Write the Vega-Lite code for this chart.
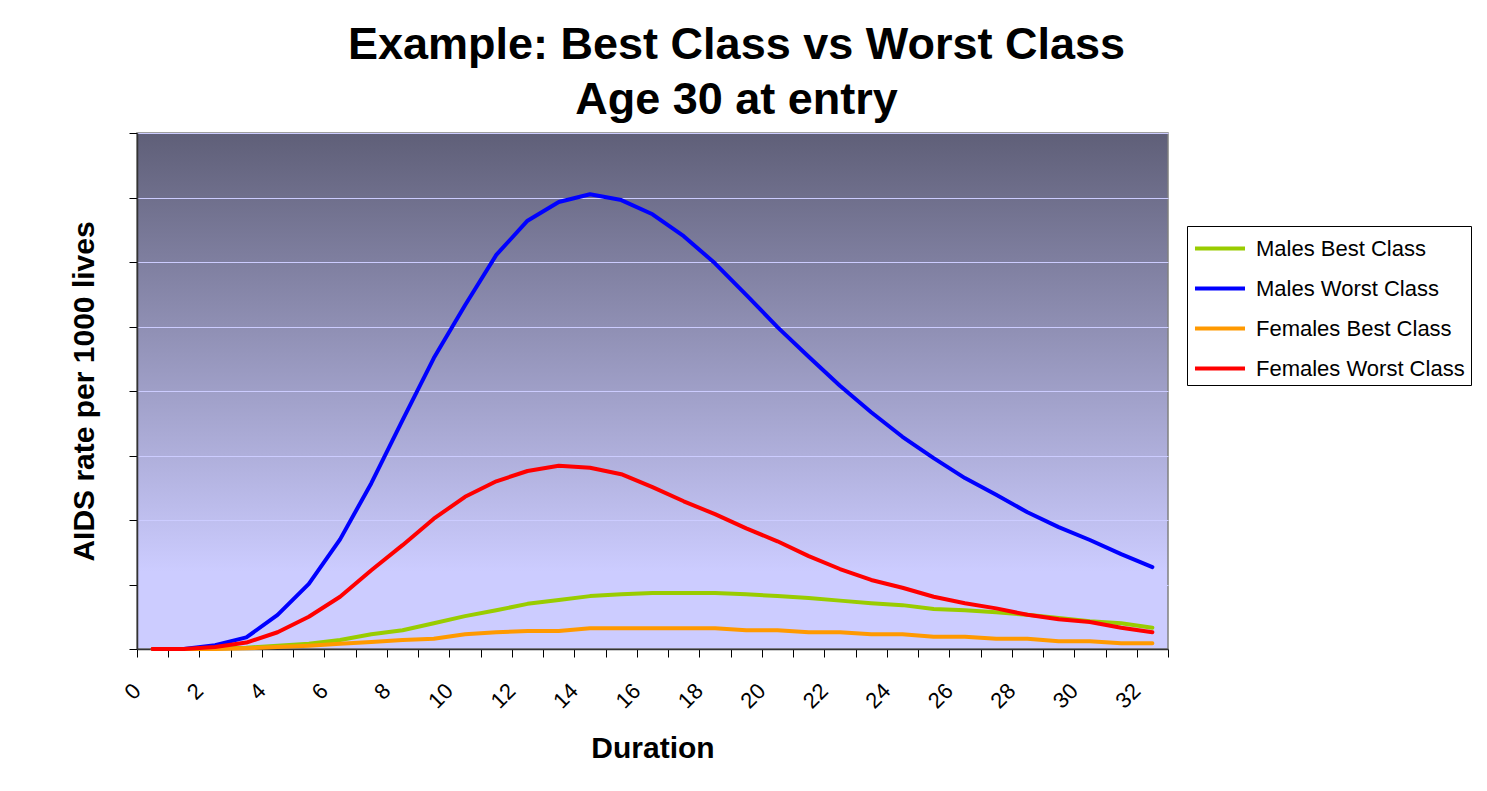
{
  "$schema": "https://vega.github.io/schema/vega-lite/v6.json",
  "width": 1031,
  "height": 516,
  "autosize": {"type": "none"},
  "padding": {"left": 137, "top": 133, "right": 319, "bottom": 142},
  "background": "white",
  "title": {
    "text": ["Example: Best Class vs Worst Class", "Age 30 at entry"],
    "font": "Liberation Sans",
    "fontSize": 45,
    "fontWeight": "bold",
    "color": "#000000",
    "lineHeight": 55,
    "anchor": "middle",
    "dx": 84,
    "offset": 10
  },
  "datasets": {
    "rates": [
      {"duration": 0, "series": "Males Best Class", "rate": 0},
      {"duration": 1, "series": "Males Best Class", "rate": 0},
      {"duration": 2, "series": "Males Best Class", "rate": 0.01},
      {"duration": 3, "series": "Males Best Class", "rate": 0.02},
      {"duration": 4, "series": "Males Best Class", "rate": 0.05},
      {"duration": 5, "series": "Males Best Class", "rate": 0.08},
      {"duration": 6, "series": "Males Best Class", "rate": 0.14},
      {"duration": 7, "series": "Males Best Class", "rate": 0.23},
      {"duration": 8, "series": "Males Best Class", "rate": 0.29},
      {"duration": 9, "series": "Males Best Class", "rate": 0.4},
      {"duration": 10, "series": "Males Best Class", "rate": 0.51},
      {"duration": 11, "series": "Males Best Class", "rate": 0.6},
      {"duration": 12, "series": "Males Best Class", "rate": 0.7},
      {"duration": 13, "series": "Males Best Class", "rate": 0.76},
      {"duration": 14, "series": "Males Best Class", "rate": 0.82},
      {"duration": 15, "series": "Males Best Class", "rate": 0.85},
      {"duration": 16, "series": "Males Best Class", "rate": 0.87},
      {"duration": 17, "series": "Males Best Class", "rate": 0.87},
      {"duration": 18, "series": "Males Best Class", "rate": 0.87},
      {"duration": 19, "series": "Males Best Class", "rate": 0.85},
      {"duration": 20, "series": "Males Best Class", "rate": 0.82},
      {"duration": 21, "series": "Males Best Class", "rate": 0.79},
      {"duration": 22, "series": "Males Best Class", "rate": 0.75},
      {"duration": 23, "series": "Males Best Class", "rate": 0.71},
      {"duration": 24, "series": "Males Best Class", "rate": 0.68},
      {"duration": 25, "series": "Males Best Class", "rate": 0.62},
      {"duration": 26, "series": "Males Best Class", "rate": 0.6},
      {"duration": 27, "series": "Males Best Class", "rate": 0.57},
      {"duration": 28, "series": "Males Best Class", "rate": 0.53},
      {"duration": 29, "series": "Males Best Class", "rate": 0.48},
      {"duration": 30, "series": "Males Best Class", "rate": 0.43},
      {"duration": 31, "series": "Males Best Class", "rate": 0.4},
      {"duration": 32, "series": "Males Best Class", "rate": 0.33},
      {"duration": 0, "series": "Males Worst Class", "rate": 0},
      {"duration": 1, "series": "Males Worst Class", "rate": 0},
      {"duration": 2, "series": "Males Worst Class", "rate": 0.06},
      {"duration": 3, "series": "Males Worst Class", "rate": 0.18},
      {"duration": 4, "series": "Males Worst Class", "rate": 0.53},
      {"duration": 5, "series": "Males Worst Class", "rate": 1.01},
      {"duration": 6, "series": "Males Worst Class", "rate": 1.7},
      {"duration": 7, "series": "Males Worst Class", "rate": 2.57},
      {"duration": 8, "series": "Males Worst Class", "rate": 3.55},
      {"duration": 9, "series": "Males Worst Class", "rate": 4.51},
      {"duration": 10, "series": "Males Worst Class", "rate": 5.33},
      {"duration": 11, "series": "Males Worst Class", "rate": 6.11},
      {"duration": 12, "series": "Males Worst Class", "rate": 6.64},
      {"duration": 13, "series": "Males Worst Class", "rate": 6.93},
      {"duration": 14, "series": "Males Worst Class", "rate": 7.05},
      {"duration": 15, "series": "Males Worst Class", "rate": 6.96},
      {"duration": 16, "series": "Males Worst Class", "rate": 6.74},
      {"duration": 17, "series": "Males Worst Class", "rate": 6.4},
      {"duration": 18, "series": "Males Worst Class", "rate": 5.98},
      {"duration": 19, "series": "Males Worst Class", "rate": 5.49},
      {"duration": 20, "series": "Males Worst Class", "rate": 4.99},
      {"duration": 21, "series": "Males Worst Class", "rate": 4.53},
      {"duration": 22, "series": "Males Worst Class", "rate": 4.08},
      {"duration": 23, "series": "Males Worst Class", "rate": 3.67},
      {"duration": 24, "series": "Males Worst Class", "rate": 3.29},
      {"duration": 25, "series": "Males Worst Class", "rate": 2.96},
      {"duration": 26, "series": "Males Worst Class", "rate": 2.65},
      {"duration": 27, "series": "Males Worst Class", "rate": 2.39},
      {"duration": 28, "series": "Males Worst Class", "rate": 2.12},
      {"duration": 29, "series": "Males Worst Class", "rate": 1.89},
      {"duration": 30, "series": "Males Worst Class", "rate": 1.69},
      {"duration": 31, "series": "Males Worst Class", "rate": 1.47},
      {"duration": 32, "series": "Males Worst Class", "rate": 1.27},
      {"duration": 0, "series": "Females Best Class", "rate": 0},
      {"duration": 1, "series": "Females Best Class", "rate": 0},
      {"duration": 2, "series": "Females Best Class", "rate": 0},
      {"duration": 3, "series": "Females Best Class", "rate": 0.01},
      {"duration": 4, "series": "Females Best Class", "rate": 0.03},
      {"duration": 5, "series": "Females Best Class", "rate": 0.05},
      {"duration": 6, "series": "Females Best Class", "rate": 0.08},
      {"duration": 7, "series": "Females Best Class", "rate": 0.11},
      {"duration": 8, "series": "Females Best Class", "rate": 0.14},
      {"duration": 9, "series": "Females Best Class", "rate": 0.16},
      {"duration": 10, "series": "Females Best Class", "rate": 0.23},
      {"duration": 11, "series": "Females Best Class", "rate": 0.26},
      {"duration": 12, "series": "Females Best Class", "rate": 0.28},
      {"duration": 13, "series": "Females Best Class", "rate": 0.28},
      {"duration": 14, "series": "Females Best Class", "rate": 0.32},
      {"duration": 15, "series": "Females Best Class", "rate": 0.32},
      {"duration": 16, "series": "Females Best Class", "rate": 0.32},
      {"duration": 17, "series": "Females Best Class", "rate": 0.32},
      {"duration": 18, "series": "Females Best Class", "rate": 0.32},
      {"duration": 19, "series": "Females Best Class", "rate": 0.29},
      {"duration": 20, "series": "Females Best Class", "rate": 0.29},
      {"duration": 21, "series": "Females Best Class", "rate": 0.26},
      {"duration": 22, "series": "Females Best Class", "rate": 0.26},
      {"duration": 23, "series": "Females Best Class", "rate": 0.23},
      {"duration": 24, "series": "Females Best Class", "rate": 0.23},
      {"duration": 25, "series": "Females Best Class", "rate": 0.19},
      {"duration": 26, "series": "Females Best Class", "rate": 0.19},
      {"duration": 27, "series": "Females Best Class", "rate": 0.16},
      {"duration": 28, "series": "Females Best Class", "rate": 0.16},
      {"duration": 29, "series": "Females Best Class", "rate": 0.12},
      {"duration": 30, "series": "Females Best Class", "rate": 0.12},
      {"duration": 31, "series": "Females Best Class", "rate": 0.09},
      {"duration": 32, "series": "Females Best Class", "rate": 0.09},
      {"duration": 0, "series": "Females Worst Class", "rate": 0},
      {"duration": 1, "series": "Females Worst Class", "rate": 0},
      {"duration": 2, "series": "Females Worst Class", "rate": 0.03},
      {"duration": 3, "series": "Females Worst Class", "rate": 0.1},
      {"duration": 4, "series": "Females Worst Class", "rate": 0.26},
      {"duration": 5, "series": "Females Worst Class", "rate": 0.5},
      {"duration": 6, "series": "Females Worst Class", "rate": 0.81},
      {"duration": 7, "series": "Females Worst Class", "rate": 1.22},
      {"duration": 8, "series": "Females Worst Class", "rate": 1.61},
      {"duration": 9, "series": "Females Worst Class", "rate": 2.02},
      {"duration": 10, "series": "Females Worst Class", "rate": 2.36},
      {"duration": 11, "series": "Females Worst Class", "rate": 2.6},
      {"duration": 12, "series": "Females Worst Class", "rate": 2.76},
      {"duration": 13, "series": "Females Worst Class", "rate": 2.84},
      {"duration": 14, "series": "Females Worst Class", "rate": 2.81},
      {"duration": 15, "series": "Females Worst Class", "rate": 2.71},
      {"duration": 16, "series": "Females Worst Class", "rate": 2.51},
      {"duration": 17, "series": "Females Worst Class", "rate": 2.29},
      {"duration": 18, "series": "Females Worst Class", "rate": 2.09},
      {"duration": 19, "series": "Females Worst Class", "rate": 1.87},
      {"duration": 20, "series": "Females Worst Class", "rate": 1.67},
      {"duration": 21, "series": "Females Worst Class", "rate": 1.44},
      {"duration": 22, "series": "Females Worst Class", "rate": 1.24},
      {"duration": 23, "series": "Females Worst Class", "rate": 1.07},
      {"duration": 24, "series": "Females Worst Class", "rate": 0.95},
      {"duration": 25, "series": "Females Worst Class", "rate": 0.81},
      {"duration": 26, "series": "Females Worst Class", "rate": 0.71},
      {"duration": 27, "series": "Females Worst Class", "rate": 0.63},
      {"duration": 28, "series": "Females Worst Class", "rate": 0.53},
      {"duration": 29, "series": "Females Worst Class", "rate": 0.46},
      {"duration": 30, "series": "Females Worst Class", "rate": 0.42},
      {"duration": 31, "series": "Females Worst Class", "rate": 0.33},
      {"duration": 32, "series": "Females Worst Class", "rate": 0.26}
    ]
  },
  "data": {"name": "rates"},
  "mark": {"type": "line", "strokeWidth": 4, "strokeJoin": "round", "strokeCap": "round"},
  "encoding": {
    "x": {
      "field": "duration",
      "type": "ordinal",
      "scale": {"paddingInner": 0, "paddingOuter": 0},
      "axis": {
        "title": "Duration",
        "titleFont": "Liberation Sans",
        "titleFontSize": 30,
        "titleFontWeight": "bold",
        "titleColor": "#000000",
        "titlePadding": 21,
        "labelFont": "Liberation Sans",
        "labelFontSize": 22,
        "labelColor": "#000000",
        "labelAngle": -45,
        "labelAlign": "right",
        "labelBaseline": "middle",
        "labelPadding": 30,
        "labelOffset": -16,
        "labelOverlap": false,
        "labelExpr": "datum.value % 2 == 0 ? datum.label : ''",
        "tickBand": "extent",
        "tickSize": 8,
        "tickColor": "#000000",
        "tickWidth": 1,
        "domainColor": "#333333",
        "domainWidth": 1.5,
        "grid": false
      }
    },
    "y": {
      "field": "rate",
      "type": "quantitative",
      "scale": {"domain": [0, 8], "nice": false},
      "axis": {
        "title": "AIDS rate per 1000 lives",
        "titleFont": "Liberation Sans",
        "titleFontSize": 30,
        "titleFontWeight": "bold",
        "titleColor": "#000000",
        "titlePadding": 29,
        "labels": false,
        "values": [0, 1, 2, 3, 4, 5, 6, 7, 8],
        "tickSize": 8,
        "tickColor": "#000000",
        "domainColor": "#333333",
        "domainWidth": 1.5,
        "grid": true,
        "gridColor": "#CCCCFF",
        "gridWidth": 1.2
      }
    },
    "color": {
      "field": "series",
      "type": "nominal",
      "sort": ["Males Best Class", "Males Worst Class", "Females Best Class", "Females Worst Class"],
      "scale": {
        "domain": ["Males Best Class", "Males Worst Class", "Females Best Class", "Females Worst Class"],
        "range": ["#99CC00", "#0000FF", "#FF9900", "#FF0000"]
      },
      "legend": {
        "orient": "none",
        "legendX": 1050,
        "legendY": 93,
        "title": null,
        "labelFont": "Liberation Sans",
        "labelFontSize": 22,
        "labelColor": "#000000",
        "labelLimit": 400,
        "symbolType": "M-1.667,0L1.667,0",
        "symbolSize": 900,
        "symbolStrokeWidth": 4,
        "symbolOffset": 10.5,
        "labelOffset": 19,
        "rowPadding": 12,
        "padding": 5.5,
        "strokeColor": "#000000",
        "fillColor": "#FFFFFF"
      }
    }
  },
  "config": {
    "font": "Liberation Sans",
    "view": {
      "fill": {
        "gradient": "linear",
        "x1": 0, "y1": 0, "x2": 0, "y2": 1,
        "stops": [
          {"offset": 0, "color": "#5F5F78"},
          {"offset": 0.85, "color": "#CCCCFF"},
          {"offset": 1, "color": "#CCCCFF"}
        ]
      },
      "stroke": "#808080",
      "strokeWidth": 1.5
    }
  }
}
